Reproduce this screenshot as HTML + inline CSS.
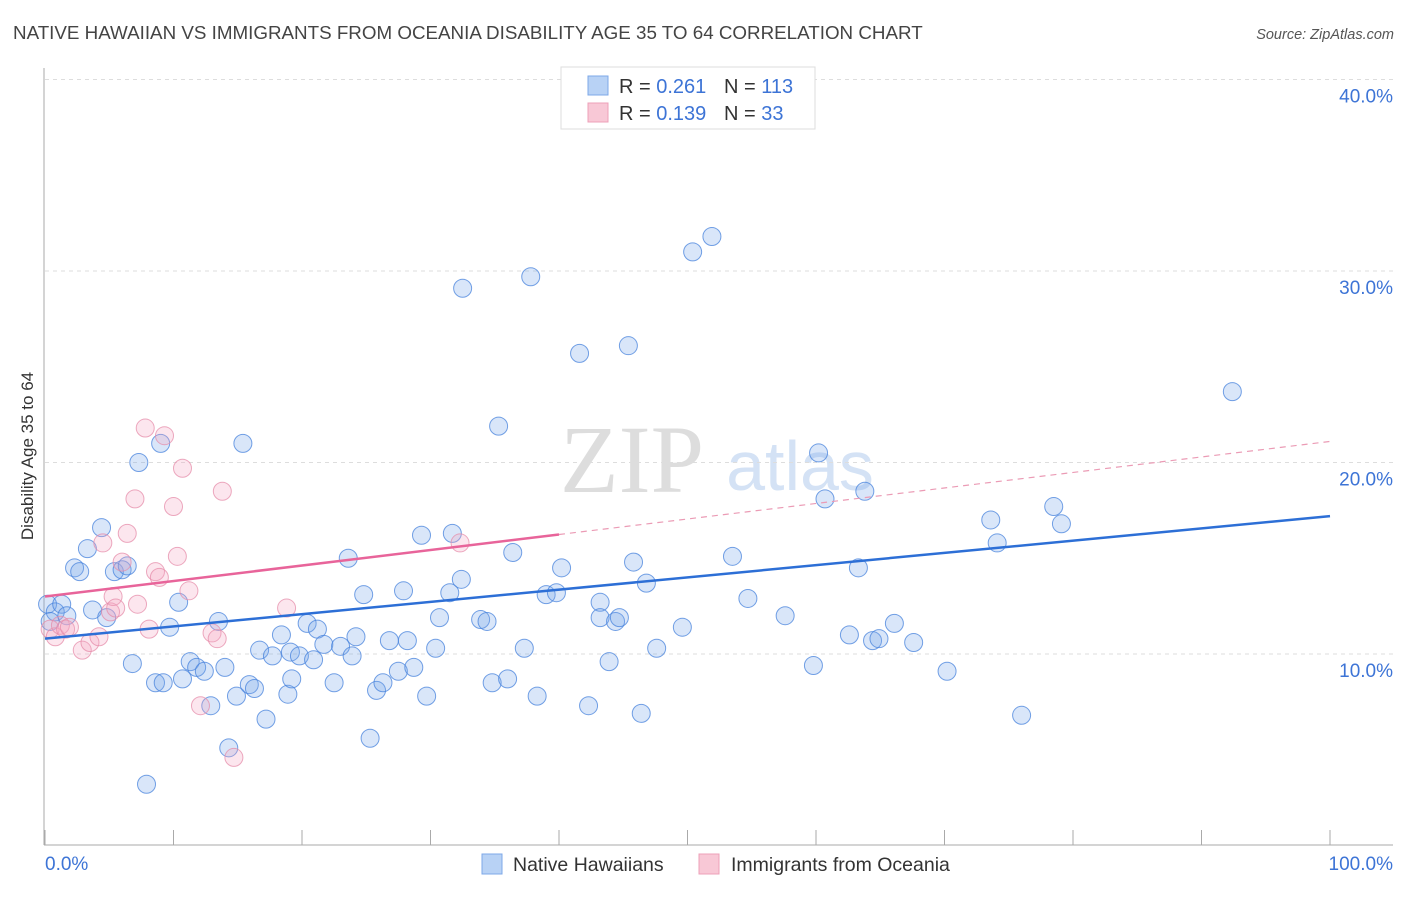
<!DOCTYPE html>
<html><head><meta charset="utf-8"><style>
body{margin:0;background:#fff;font-family:"Liberation Sans",sans-serif;}
svg text{font-family:"Liberation Sans",sans-serif;}
</style></head><body>
<svg id="chart" width="1406" height="892">
<text x="13" y="39" font-size="18.8" fill="#444">NATIVE HAWAIIAN VS IMMIGRANTS FROM OCEANIA DISABILITY AGE 35 TO 64 CORRELATION CHART</text>
<text x="1394" y="39" font-size="14.5" fill="#555" font-style="italic" text-anchor="end">Source: ZipAtlas.com</text>
<text x="0" y="0" font-size="17" fill="#333" text-anchor="middle" transform="translate(33,456) rotate(-90)">Disability Age 35 to 64</text>
<g>
<text x="632" y="492" font-size="96" fill="#ddd" text-anchor="middle" font-family="Liberation Serif, serif" style="font-family:'Liberation Serif',serif">ZIP</text>
<text x="800" y="490" font-size="70" fill="#d4e2f5" text-anchor="middle">atlas</text>
</g>
<g id="grid"></g>
<g id="axes"></g>
<g id="marks"></g>
<g>
<rect x="561" y="67" width="254" height="62" fill="#fff" stroke="#ddd"/>
<rect x="588" y="76" width="20" height="19" fill="#b8d2f5" stroke="#7ea8e8"/>
<rect x="588" y="103" width="20" height="19" fill="#f8c8d6" stroke="#eea0b8"/>
<text x="619" y="93" font-size="20" fill="#333">R = <tspan fill="#3d74d6">0.261</tspan></text>
<text x="724" y="93" font-size="20" fill="#333">N = <tspan fill="#3d74d6">113</tspan></text>
<text x="619" y="120" font-size="20" fill="#333">R = <tspan fill="#3d74d6">0.139</tspan></text>
<text x="724" y="120" font-size="20" fill="#333">N = <tspan fill="#3d74d6"> 33</tspan></text>
</g>
<g>
<rect x="482" y="854" width="20" height="20" fill="#b8d2f5" stroke="#7ea8e8"/>
<text x="513" y="871" font-size="19.5" fill="#333">Native Hawaiians</text>
<rect x="699" y="854" width="20" height="20" fill="#f8c8d6" stroke="#eea0b8"/>
<text x="731" y="871" font-size="19.5" fill="#333">Immigrants from Oceania</text>
</g>
</svg>
<script>
const blueX=[0.2,0.8,0.4,1.3,1.7,2.3,2.7,3.3,4.4,3.7,4.8,5.4,6.0,6.4,6.8,7.3,7.9,8.6,9.0,9.2,9.7,10.4,10.7,11.3,11.8,12.4,12.9,13.5,14.0,14.3,14.9,15.4,15.9,16.3,16.7,17.2,17.7,18.4,18.9,19.2,19.1,19.8,20.4,20.9,21.2,21.7,22.5,23.0,23.6,23.9,24.2,24.8,25.3,25.8,26.3,26.8,27.5,27.9,28.2,28.7,29.3,29.7,30.4,30.7,31.5,31.7,32.4,32.5,33.9,34.4,34.8,35.3,36.0,36.4,37.3,37.8,38.3,39.0,39.8,40.2,41.6,42.3,43.2,43.2,43.9,44.4,44.7,45.4,45.8,46.4,46.8,47.6,49.6,50.4,51.9,53.5,54.7,57.6,59.8,60.2,60.7,62.6,63.3,63.8,64.4,64.9,66.1,67.6,70.2,73.6,74.1,76.0,78.5,79.1,92.4];
const blueY=[12.6,12.2,11.7,12.6,12.0,14.5,14.3,15.5,16.6,12.3,11.9,14.3,14.4,14.6,9.5,20.0,3.2,8.5,21.0,8.5,11.4,12.7,8.7,9.6,9.3,9.1,7.3,11.7,9.3,5.1,7.8,21.0,8.4,8.2,10.2,6.6,9.9,11.0,7.9,8.7,10.1,9.9,11.6,9.7,11.3,10.5,8.5,10.4,15.0,9.9,10.9,13.1,5.6,8.1,8.5,10.7,9.1,13.3,10.7,9.3,16.2,7.8,10.3,11.9,13.2,16.3,13.9,29.1,11.8,11.7,8.5,21.9,8.7,15.3,10.3,29.7,7.8,13.1,13.2,14.5,25.7,7.3,12.7,11.9,9.6,11.7,11.9,26.1,14.8,6.9,13.7,10.3,11.4,31.0,31.8,15.1,12.9,12.0,9.4,20.5,18.1,11.0,14.5,18.5,10.7,10.8,11.6,10.6,9.1,17.0,15.8,6.8,17.7,16.8,23.7];
const pinkX=[0.4,0.8,1.2,1.6,1.9,2.9,3.5,4.2,4.5,5.1,5.3,5.5,6.0,6.4,7.0,7.2,7.8,8.1,8.6,8.9,9.3,10.0,10.3,10.7,11.2,12.1,13.0,13.4,13.8,14.7,18.8,32.3];
const pinkY=[11.3,10.9,11.5,11.3,11.4,10.2,10.6,10.9,15.8,12.2,13.0,12.4,14.8,16.3,18.1,12.6,21.8,11.3,14.3,14.0,21.4,17.7,15.1,19.7,13.3,7.3,11.1,10.8,18.5,4.6,12.4,15.8];
const blueTrend=[10.8,17.2];
const pinkTrend=[13.0,21.1];
const pinkSolidEnd=40;
const yTicks=[10,20,30,40];
const yTickLabels=["10.0%","20.0%","30.0%","40.0%"];
const xTicks=[0,10,20,30,40,50,60,70,80,90,100];

const NS="http://www.w3.org/2000/svg";
const sx=v=>45+v*12.85;
const sy=v=>845.5-v*19.15;
function mk(tag,attrs,parent){const e=document.createElementNS(NS,tag);for(const k in attrs)e.setAttribute(k,attrs[k]);parent.appendChild(e);return e;}
const grid=document.getElementById('grid'),axes=document.getElementById('axes'),marks=document.getElementById('marks');
yTicks.forEach((t,i)=>{
  const l=mk('line',{x1:45,x2:1393,y1:sy(t),y2:sy(t),stroke:'#ddd','stroke-dasharray':'4,4'},grid);
  
  
  const tx=mk('text',{x:1393,y:sy(t)+23,'font-size':19,fill:'#3d74d6','text-anchor':'end'},axes);
  tx.textContent=yTickLabels[i];
  
  
});
let a=mk('line',{x1:44,x2:44,y1:68,y2:845,stroke:'#aaa'},axes);


a=mk('line',{x1:44,x2:1393,y1:845,y2:845,stroke:'#aaa'},axes);


xTicks.forEach(t=>{
  const l=mk('line',{x1:sx(t),x2:sx(t),y1:830,y2:845,stroke:'#aaa'},axes);
  
  
});
let t0=mk('text',{x:45,y:870,'font-size':19,fill:'#3d74d6'},axes);t0.textContent='0.0%';


let t1=mk('text',{x:1393,y:870,'font-size':19,fill:'#3d74d6','text-anchor':'end'},axes);t1.textContent='100.0%';


blueX.forEach((x,i)=>{
  const c=mk('circle',{cx:sx(x),cy:sy(blueY[i]),r:9,fill:'rgba(120,165,235,0.28)',stroke:'rgba(70,130,220,0.75)','stroke-width':1},marks);
  
  
});
pinkX.forEach((x,i)=>{
  const c=mk('circle',{cx:sx(x),cy:sy(pinkY[i]),r:9,fill:'rgba(245,165,195,0.28)',stroke:'rgba(230,140,170,0.75)','stroke-width':1},marks);
  
  
});
const pAt=x=>pinkTrend[0]+(pinkTrend[1]-pinkTrend[0])*x/100;
let tl=mk('line',{x1:sx(0),y1:sy(blueTrend[0]),x2:sx(100),y2:sy(blueTrend[1]),stroke:'#2d6fd6','stroke-width':2.5},marks);


tl=mk('line',{x1:sx(0),y1:sy(pAt(0)),x2:sx(pinkSolidEnd),y2:sy(pAt(pinkSolidEnd)),stroke:'#e8649a','stroke-width':2.5},marks);


tl=mk('line',{x1:sx(pinkSolidEnd),y1:sy(pAt(pinkSolidEnd)),x2:sx(100),y2:sy(pAt(100)),stroke:'#eb9bb5','stroke-width':1.2,'stroke-dasharray':'6,5'},marks);


</script>
</body></html>
